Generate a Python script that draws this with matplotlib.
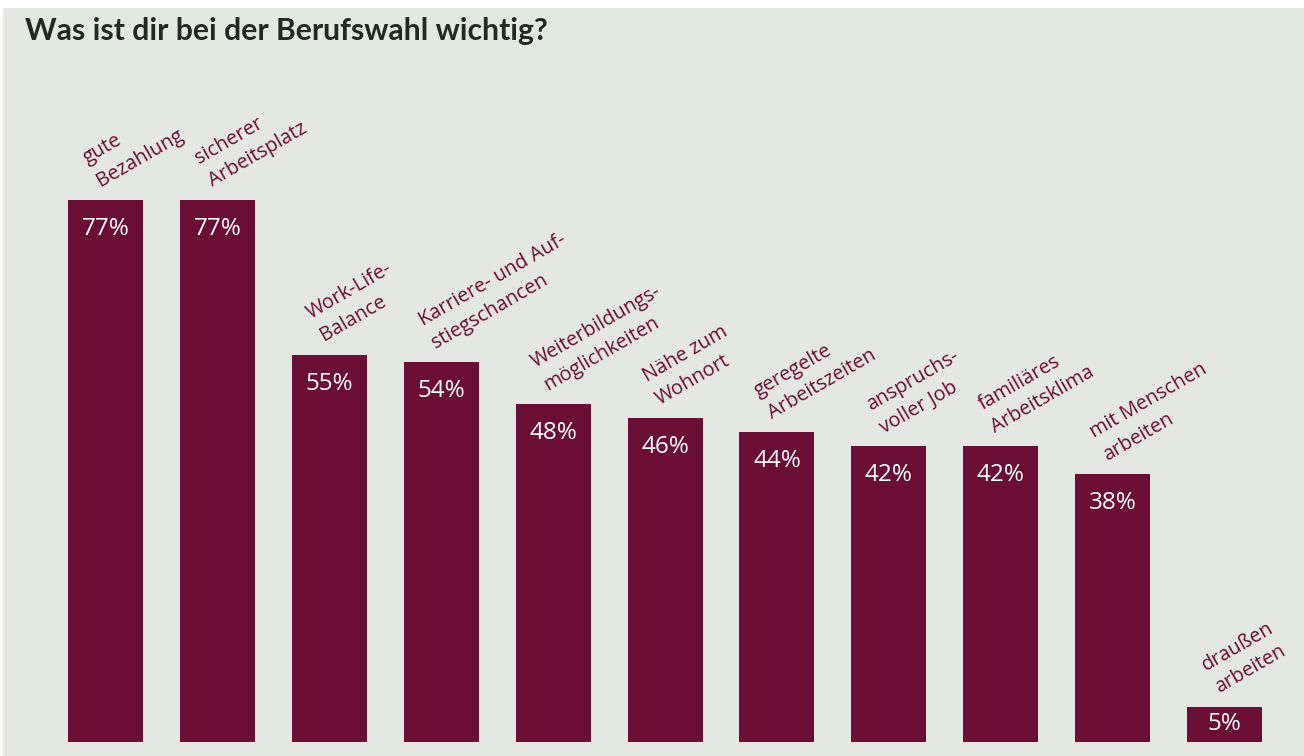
import matplotlib.pyplot as plt

# data
categories = [
    "gute\nBezahlung",
    "sicherer\nArbeitsplatz",
    "Work-Life-\nBalance",
    "Karriere- und Auf-\nstiegschancen",
    "Weiterbildungs-\nmöglichkeiten",
    "Nähe zum\nWohnort",
    "geregelte\nArbeitszeiten",
    "anspruchs-\nvoller Job",
    "familiäres\nArbeitsklima",
    "mit Menschen\narbeiten",
    "draußen\narbeiten",
]
values = [77, 77, 55, 54, 48, 46, 44, 42, 42, 38, 5]
title = "Was ist dir bei der Berufswahl wichtig?"

BAR_COLOR = "#6a0e33"
BG_COLOR = "#e5e7e4"
TITLE_COLOR = "#262626"

plt.rcParams['font.family'] = ['Open Sans', 'DejaVu Sans']

fig = plt.figure(figsize=(13.04, 7.56), dpi=100)
fig.patch.set_facecolor("white")

# grey panel (small white strip on top and left like the original)
bg = fig.add_axes([3 / 1304, 0, 1, 1 - 8 / 756])
bg.set_facecolor(BG_COLOR)
bg.set_xticks([])
bg.set_yticks([])
for s in bg.spines.values():
    s.set_visible(False)

ax = fig.add_axes([0, 0, 1, 1])
ax.set_facecolor("none")
x = list(range(len(values)))
bar_w = 0.67
ax.bar(x, values, width=bar_w, color=BAR_COLOR, zorder=2)

ax.set_xlim(-0.943, 10.71)
ax.set_ylim(-1.99, 105.4)
ax.axis("off")

for i, (cat, v) in enumerate(zip(categories, values)):
    # percentage inside bar
    off = 4.1 if v > 10 else v / 2
    ax.text(i, v - off, f"{v}%", ha="center", va="center", color="white",
            fontsize=17.5, zorder=3)
    # rotated category label above bar
    ax.text(i - bar_w / 2 + 0.31, v + 1.3, cat, rotation=30, rotation_mode="anchor",
            ha="left", va="bottom", multialignment="left", color=BAR_COLOR,
            fontsize=14.3, linespacing=1.4, zorder=3)

fig.text(25 / 1304, 1 - 31 / 756, title, ha="left", va="center", fontsize=21.7,
         fontweight="bold", color=TITLE_COLOR, family=["Lato", "DejaVu Sans"])

fig.savefig("out.png", dpi=100, facecolor=fig.get_facecolor())
